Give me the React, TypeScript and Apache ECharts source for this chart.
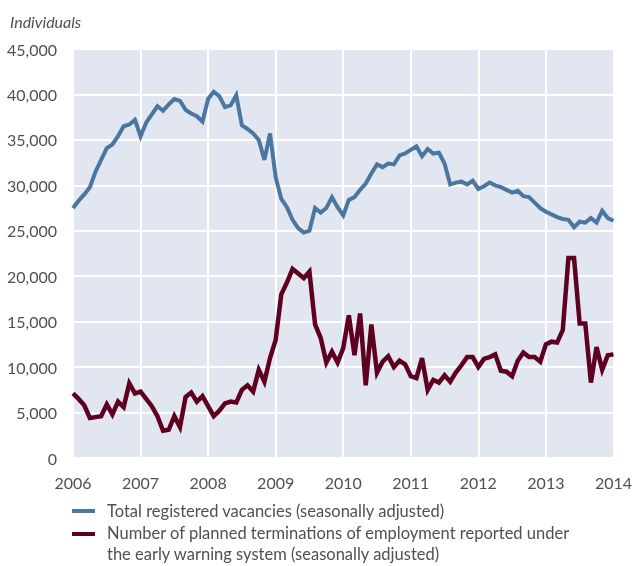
import React, { useEffect, useRef } from "react";
import * as echarts from "echarts";

const startYear = 2006;
const yearTicks = [2006, 2007, 2008, 2009, 2010, 2011, 2012, 2013, 2014];

// Monthly, Jan 2006 .. Jan 2014
const vacancies = [
  27500, 28300, 29000, 29800, 31500, 32800, 34100, 34500, 35400, 36500, 36700, 37200,
  35400, 36900, 37800, 38700, 38200, 38900, 39500, 39300, 38300, 37900, 37600, 37000,
  39500, 40300, 39800, 38600, 38800, 39900, 36600, 36200, 35700, 35000, 32800, 35700,
  30900, 28500, 27600, 26200, 25300, 24800, 25000, 27500, 27000, 27500, 28700, 27600,
  26700, 28400, 28700, 29500, 30200, 31300, 32300, 32000, 32400, 32300, 33300, 33500,
  33900, 34300, 33200, 34000, 33500, 33600, 32400, 30100, 30300, 30400, 30100, 30500,
  29600, 29900, 30300, 30000, 29800, 29500, 29200, 29400, 28800, 28700, 28100, 27500,
  27100, 26800, 26500, 26300, 26200, 25400, 26000, 25900, 26400, 25900, 27200, 26400,
  26100,
];

const terminations = [
  7100, 6500, 5800, 4400, 4500, 4600, 5900, 4800, 6200, 5600, 8200, 7100,
  7300, 6500, 5700, 4600, 3000, 3100, 4600, 3400, 6700, 7200, 6200, 6800,
  5700, 4600, 5200, 6000, 6200, 6100, 7500, 8000, 7300, 9700, 8400, 11000,
  13000, 18000, 19300, 20800, 20300, 19800, 20500, 14700, 13200, 10500, 11700, 10500,
  12100, 15700, 11300, 15900, 8000, 14700, 9400, 10600, 11200, 10000, 10700, 10300,
  9000, 8800, 11000, 7500, 8600, 8300, 9100, 8400, 9400, 10200, 11100, 11100,
  10000, 10900, 11100, 11400, 9600, 9500, 9000, 10700, 11600, 11100, 11100, 10600,
  12500, 12800, 12700, 14100, 22000, 22000, 14800, 14800, 8300, 12200, 9700, 11300,
  11400,
];

const seriesNames = [
  "Total registered vacancies (seasonally adjusted)",
  "Number of planned terminations of employment reported under",
  "the early warning system (seasonally adjusted)",
];
const yTitle = "Individuals";

const BLUE = "#4a76a0";
const RED = "#5e0020";
const TEXT = "#505050";
const FONT = "Lato";

export default function App() {
  const ref = useRef<HTMLDivElement>(null);
  useEffect(() => {
    if (!ref.current) return;
    const chart = echarts.init(ref.current, null, { renderer: "svg" });
    const toPairs = (arr: number[]) => arr.map((v, i) => [i, v]);
    chart.setOption({
      animation: false,
      textStyle: { fontFamily: FONT },
      grid: {
        left: 73,
        right: 20,
        top: 49,
        bottom: 108,
        show: true,
        backgroundColor: "#e1e6f0",
        borderWidth: 0,
        containLabel: false,
      },
      xAxis: {
        type: "value",
        min: 0,
        max: (yearTicks.length - 1) * 12,
        interval: 12,
        axisLine: { show: false },
        axisTick: { show: false },
        axisLabel: {
          color: TEXT,
          fontSize: 16,
          fontFamily: FONT,
          margin: 16,
          formatter: (v: number) => String(startYear + Math.round(v / 12)),
        },
        splitLine: { show: true, lineStyle: { color: "#ffffff", width: 2 } },
      },
      yAxis: {
        type: "value",
        min: 0,
        max: 45000,
        interval: 5000,
        axisLine: { show: false },
        axisTick: { show: false },
        axisLabel: {
          color: TEXT,
          fontSize: 16,
          fontFamily: FONT,
          margin: 16,
          formatter: (v: number) => v.toLocaleString("en-US"),
        },
        splitLine: { show: true, lineStyle: { color: "#ffffff", width: 2 } },
      },
      series: [
        {
          name: seriesNames[0],
          type: "line",
          data: toPairs(vacancies),
          showSymbol: false,
          lineStyle: { color: BLUE, width: 4, join: "miter" },
          itemStyle: { color: BLUE },
        },
        {
          name: seriesNames[1],
          type: "line",
          data: toPairs(terminations),
          showSymbol: false,
          lineStyle: { color: RED, width: 4.5, join: "miter" },
          itemStyle: { color: RED },
        },
      ],
      graphic: [
        {
          type: "text",
          x: 10,
          y: 21,
          style: {
            text: yTitle,
            fill: TEXT,
            font: `italic 16px ${FONT}`,
            verticalAlign: "middle",
          },
        },
        {
          type: "rect",
          shape: { x: 72, y: 509, width: 23, height: 4 },
          style: { fill: BLUE },
        },
        {
          type: "text",
          x: 107,
          y: 511,
          style: {
            text: seriesNames[0],
            fill: TEXT,
            font: `16.5px ${FONT}`,
            verticalAlign: "middle",
          },
        },
        {
          type: "rect",
          shape: { x: 72, y: 532, width: 23, height: 4 },
          style: { fill: RED },
        },
        {
          type: "text",
          x: 107,
          y: 533,
          style: {
            text: seriesNames[1],
            fill: TEXT,
            font: `16.5px ${FONT}`,
            verticalAlign: "middle",
          },
        },
        {
          type: "text",
          x: 107,
          y: 554,
          style: {
            text: seriesNames[2],
            fill: TEXT,
            font: `16.5px ${FONT}`,
            verticalAlign: "middle",
          },
        },
      ],
    });
    return () => chart.dispose();
  }, []);
  return (
    <div
      ref={ref}
      style={{ position: "fixed", left: 0, top: 0, width: 635, height: 566 }}
    />
  );
}
